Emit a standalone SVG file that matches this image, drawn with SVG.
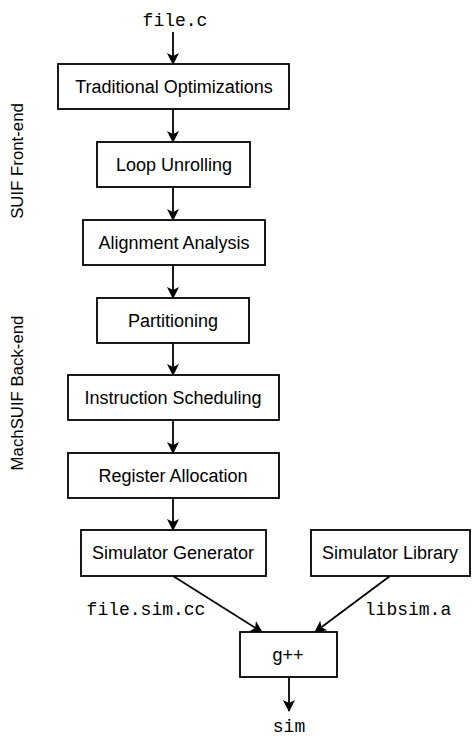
<svg xmlns="http://www.w3.org/2000/svg" width="472" height="738" viewBox="0 0 472 738">
<style>
.box{fill:#fff;stroke:#000;stroke-width:1.8}
.t{font-family:"Liberation Sans",Arial,sans-serif;font-size:18px;text-anchor:middle;fill:#000}
.m{font-family:"Liberation Mono","Courier New",monospace;font-size:18px;fill:#000;text-anchor:middle}
.side{font-family:"Liberation Sans",Arial,sans-serif;font-size:16.8px;text-anchor:middle;fill:#000}
.c{stroke:#000;stroke-width:1.8;fill:none;marker-end:url(#ah)}
</style>
<defs>
<marker id="ah" markerWidth="12" markerHeight="12" refX="11" refY="6" orient="auto" markerUnits="userSpaceOnUse">
<path d="M0,0 L12,6 L0,12 L3,6 Z" fill="#000"/>
</marker>
</defs>
<rect width="472" height="738" fill="#fff"/>
<g id="connectors">
<line class="c" x1="173" y1="32" x2="173" y2="64"/>
<line class="c" x1="173" y1="109" x2="173" y2="142"/>
<line class="c" x1="173" y1="187" x2="173" y2="220"/>
<line class="c" x1="173" y1="265" x2="173" y2="298"/>
<line class="c" x1="173" y1="343" x2="173" y2="375"/>
<line class="c" x1="173" y1="420" x2="173" y2="453"/>
<line class="c" x1="173" y1="498" x2="173" y2="530"/>
<line class="c" x1="173" y1="576" x2="262" y2="632"/>
<line class="c" x1="390" y1="576" x2="315" y2="632"/>
<line class="c" x1="289" y1="677" x2="289" y2="711"/>
</g>
<g id="lbl-filec"><text class="m" x="175" y="26">file.c</text></g>
<g id="n-trad"><rect class="box" x="58" y="64" width="231" height="45"/><text class="t" x="174" y="93">Traditional Optimizations</text></g>
<g id="n-loop"><rect class="box" x="97" y="142" width="153" height="45"/><text class="t" x="174" y="171">Loop Unrolling</text></g>
<g id="n-align"><rect class="box" x="83" y="220" width="182" height="45"/><text class="t" x="174" y="249">Alignment Analysis</text></g>
<g id="n-part"><rect class="box" x="97" y="298" width="152" height="45"/><text class="t" x="173" y="327">Partitioning</text></g>
<g id="n-isched"><rect class="box" x="68" y="375" width="211" height="45"/><text class="t" x="173" y="404">Instruction Scheduling</text></g>
<g id="n-regalloc"><rect class="box" x="68" y="453" width="211" height="45"/><text class="t" x="173" y="482">Register Allocation</text></g>
<g id="n-simgen"><rect class="box" x="81" y="530" width="185" height="46"/><text class="t" x="173" y="559">Simulator Generator</text></g>
<g id="n-simlib"><rect class="box" x="311" y="530" width="159" height="46"/><text class="t" x="390" y="559">Simulator Library</text></g>
<g id="n-gpp"><rect class="box" x="240" y="632" width="97" height="45"/><text class="t" x="288" y="661">g++</text></g>
<g id="lbl-simcc"><text class="m" x="146" y="615">file.sim.cc</text></g>
<g id="lbl-libsim"><text class="m" x="408" y="615">libsim.a</text></g>
<g id="lbl-sim"><text class="m" x="289" y="732">sim</text></g>
<g id="side-front"><text class="side" transform="translate(23,161) rotate(-90)">SUIF Front-end</text></g>
<g id="side-back"><text class="side" transform="translate(23,393) rotate(-90)">MachSUIF Back-end</text></g>
</svg>
